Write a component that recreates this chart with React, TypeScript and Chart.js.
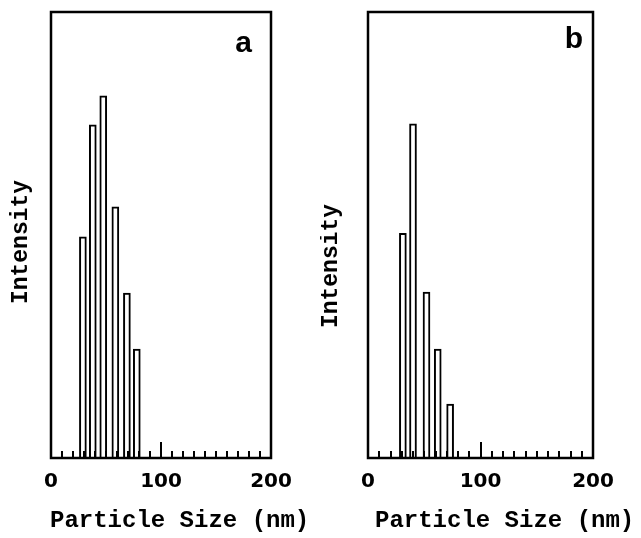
import React, { useEffect, useRef } from 'react';
import { Chart, registerables } from 'chart.js';
Chart.register(...registerables);

// Panel a: particle size (nm) and relative intensity
const sizesA = [29, 38, 47.5, 58.5, 69, 78];
const intensityA = [49.6, 74.7, 81.2, 56.3, 37.0, 24.4];
// Panel b
const sizesB = [31, 40, 52, 62, 73];
const intensityB = [50.4, 74.9, 37.2, 24.4, 12.1];

const labeledTicks = [0, 100, 200];
const majorTick = 100;
const xMin = 0;
const xMax = 200;
const xStep = 10;
const yMax = 100;
const xTitle = 'Particle Size (nm)';
const yTitle = 'Intensity';
const panelLetters = ['a', 'b'];

const decorPlugin = {
  id: 'panelDecor',
  afterDatasetsDraw(chart: any, _args: any, opts: any) {
    const { ctx, chartArea: a, scales } = chart;
    const x = scales.x;
    ctx.save();
    ctx.strokeStyle = '#000';
    ctx.lineWidth = 2;
    x.ticks.forEach((t: any) => {
      if (t.value <= xMin || t.value >= xMax) return;
      const px = Math.round(x.getPixelForValue(t.value));
      const len = t.value === majorTick ? 16 : 7;
      ctx.beginPath();
      ctx.moveTo(px, a.bottom);
      ctx.lineTo(px, a.bottom - len);
      ctx.stroke();
    });
    ctx.lineWidth = 2.5;
    ctx.strokeRect(a.left, a.top, a.right - a.left, a.bottom - a.top);
    ctx.fillStyle = '#000';
    ctx.font = 'bold 30px "Liberation Sans"';
    ctx.textAlign = 'right';
    ctx.textBaseline = 'alphabetic';
    ctx.fillText(opts.letter, opts.letterX, opts.letterY);
    ctx.font = 'bold 24px "Liberation Mono"';
    ctx.textAlign = 'left';
    ctx.textBaseline = 'middle';
    ctx.fillText(xTitle, opts.xTitleX, opts.xTitleY);
    ctx.translate(opts.yTitleX, opts.yTitleY);
    ctx.rotate(-Math.PI / 2);
    ctx.font = 'bold 23px "Liberation Mono"';
    ctx.textAlign = 'center';
    ctx.fillText(yTitle, 0, 0);
    ctx.restore();
  },
};

type PanelProps = {
  sizes: number[];
  values: number[];
  width: number;
  left: number;
  pad: { left: number; right: number; top: number; bottom: number };
  decor: any;
};

function Panel({ sizes, values, width, left, pad, decor }: PanelProps) {
  const ref = useRef<HTMLCanvasElement>(null);
  useEffect(() => {
    if (!ref.current) return;
    const chart = new Chart(ref.current, {
      type: 'bar',
      data: {
        datasets: [
          {
            data: sizes.map((s, i) => ({ x: s, y: values[i] })),
            backgroundColor: '#fff',
            borderColor: '#000',
            borderWidth: 2,
            barThickness: 7,
            borderSkipped: 'start',
          },
        ],
      },
      options: {
        animation: false,
        responsive: false,
        layout: { padding: pad },
        plugins: {
          legend: { display: false },
          tooltip: { enabled: false },
          panelDecor: decor,
        } as any,
        scales: {
          x: {
            type: 'linear',
            min: xMin,
            max: xMax,
            offset: false,
            grid: { display: false, drawTicks: false },
            border: { display: false },
            ticks: {
              stepSize: xStep,
              autoSkip: false,
              maxRotation: 0,
              padding: 12,
              color: '#000',
              font: { family: 'DejaVu Sans', weight: 'bold', size: 20 },
              callback: (v: any) => (labeledTicks.includes(Number(v)) ? String(v) : ''),
            },
            afterFit: (scale: any) => {
              scale.height = 80;
            },
          },
          y: {
            display: false,
            min: 0,
            max: yMax,
          },
        },
      },
      plugins: [decorPlugin],
    });
    return () => chart.destroy();
  }, []);
  return (
    <canvas
      ref={ref}
      width={width}
      height={538}
      style={{ position: 'absolute', left, top: 0, width, height: 538 }}
    />
  );
}

export default function App() {
  return (
    <div style={{ position: 'absolute', left: 0, top: 0, width: 641, height: 538, background: '#fff', overflow: 'hidden' }}>
      <Panel
        sizes={sizesA}
        values={intensityA}
        width={320}
        left={0}
        pad={{ left: 51, right: 49, top: 12, bottom: 0 }}
        decor={{ letter: panelLetters[0], letterX: 252, letterY: 52, xTitleX: 50, xTitleY: 521, yTitleX: 21, yTitleY: 242 }}
      />
      <Panel
        sizes={sizesB}
        values={intensityB}
        width={321}
        left={320}
        pad={{ left: 48, right: 48, top: 12, bottom: 0 }}
        decor={{ letter: panelLetters[1], letterX: 263, letterY: 48, xTitleX: 55, xTitleY: 521, yTitleX: 11, yTitleY: 266 }}
      />
    </div>
  );
}
